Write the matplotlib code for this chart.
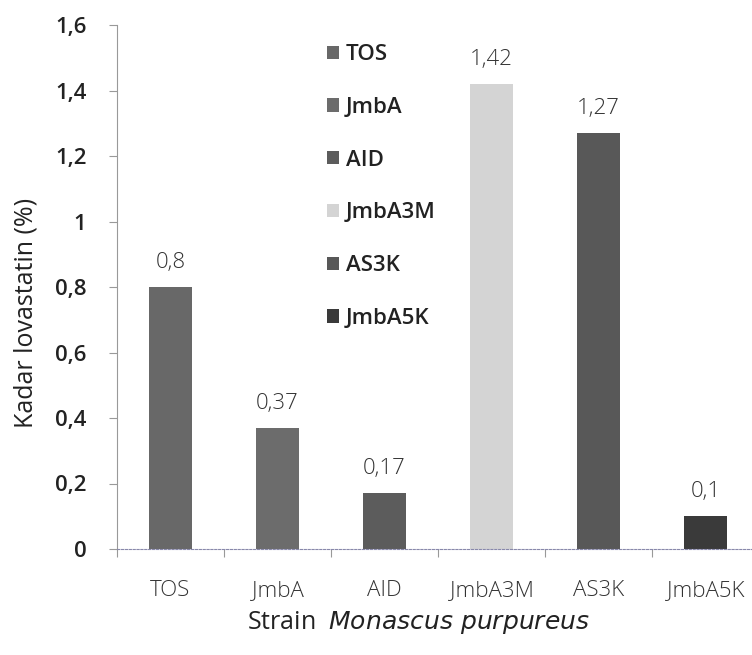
import matplotlib
matplotlib.use("Agg")
import matplotlib.pyplot as plt
from matplotlib.patches import Patch

plt.rcParams['font.family'] = ['Open Sans', 'DejaVu Sans']

# data
strains = ["TOS", "JmbA", "AID", "JmbA3M", "AS3K", "JmbA5K"]
lovastatin = [0.8, 0.37, 0.17, 1.42, 1.27, 0.1]
value_labels = ["0,8", "0,37", "0,17", "1,42", "1,27", "0,1"]
yticks = [0, 0.2, 0.4, 0.6, 0.8, 1.0, 1.2, 1.4, 1.6]
ytick_labels = ["0", "0,2", "0,4", "0,6", "0,8", "1", "1,2", "1,4", "1,6"]

colors = ["#686868", "#6c6c6c", "#5c5c5c", "#d4d4d4", "#585858", "#3a3a3a"]

fig = plt.figure(figsize=(7.52, 6.55), dpi=100)
ax = fig.add_axes([117 / 752, 1 - 549 / 655, 642 / 752, 524 / 655])

x = list(range(len(strains)))
bars = ax.bar(x, lovastatin, width=0.4, color=colors, edgecolor="none", zorder=2)

for xi, v, lab in zip(x, lovastatin, value_labels):
    ax.annotate(lab, (xi, v), xytext=(0, 10), textcoords="offset points",
                ha="center", va="bottom", fontsize=16, fontweight="light", color="#333333")

ax.set_xlim(-0.5, 5.5)
ax.set_ylim(0, 1.6)
ax.set_yticks(yticks)
ax.set_yticklabels(ytick_labels, fontsize=16, fontweight="semibold", color="#222222")

# category labels centered, ticks on boundaries
ax.set_xticks([i + 0.5 for i in range(-1, 6)])
ax.set_xticklabels([])
ax.set_xticks(x, minor=True)
ax.set_xticklabels(strains, minor=True, fontsize=16, fontweight="light", color="#333333")
ax.tick_params(axis="x", which="minor", length=0, pad=22)
ax.tick_params(axis="x", which="major", length=6, color="#999999", direction="out")
ax.tick_params(axis="y", length=6, color="#999999", pad=16)

for s in ["top", "right"]:
    ax.spines[s].set_visible(False)
ax.spines["left"].set_color("#999999")
ax.spines["left"].set_linewidth(0.8)
ax.spines["bottom"].set_color("#8888aa")
ax.spines["bottom"].set_linestyle((0, (2, 1.5)))
ax.spines["bottom"].set_linewidth(0.8)

ax.set_ylabel("Kadar lovastatin (%)", fontsize=18, color="#222222")
ax.yaxis.set_label_coords(-0.122, 0.45)
fig.text(418 / 752, 1 - 623 / 655, r"Strain  $\it{Monascus\ purpureus}$",
         ha="center", va="center", fontsize=18, color="#222222")

handles = [Patch(facecolor=c, edgecolor="none", label=s) for c, s in zip(colors, strains)]
leg = ax.legend(handles=handles, loc="upper left", bbox_to_anchor=(316 / 752, 1 - 33 / 655),
                bbox_transform=fig.transFigure, frameon=False, borderpad=0,
                handlelength=0.55, handleheight=0.55, handletextpad=0.3,
                labelspacing=1.43, prop={"size": 16, "weight": "semibold"})
for t in leg.get_texts():
    t.set_color("#222222")

fig.savefig("out.png", dpi=100)
